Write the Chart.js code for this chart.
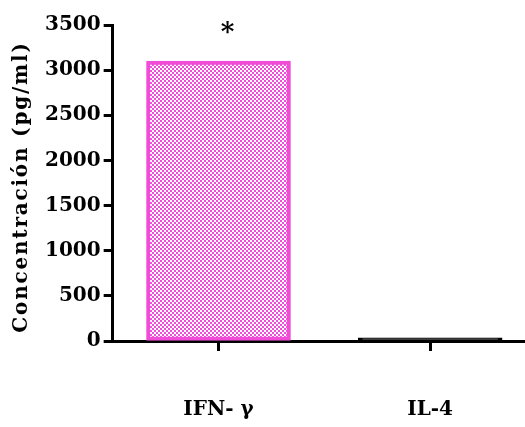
<!DOCTYPE html>
<html>
<head>
<meta charset="utf-8">
<script src="https://cdn.jsdelivr.net/npm/chart.js@4"></script>
<style>
  html, body { margin: 0; padding: 0; background: #fff; overflow: hidden; }
  /* the original plot runs past the right edge, so the canvas is a bit wider than the window */
  #wrap { width: 536px; height: 427px; }
</style>
</head>
<body>
<div id="wrap"><canvas id="chart"></canvas></div>
<script>
// Data
const categories = ["IFN- γ", "IL-4"]
const concentration = [3100, 35]
const significant = [true, false]
const yTicks = [0, 500, 1000, 1500, 2000, 2500, 3000, 3500]
const yTitle = "Concentración (pg/ml)"

const pink = "#f04cd8"

// checkered fill like the original bar
function checker() {
    const c = document.createElement("canvas")
    c.width = 4
    c.height = 4
    const g = c.getContext("2d")
    g.fillStyle = "#fff"
    g.fillRect(0, 0, 4, 4)
    g.fillStyle = pink
    g.fillRect(0, 0, 2, 2)
    g.fillRect(2, 2, 2, 2)
    return g.createPattern(c, "repeat")
}

// asterisk above significant bars + spaced-out y title
const extrasPlugin = {
    id: "extras",
    afterDraw(chart) {
        const ctx = chart.ctx
        const x = chart.scales.x, y = chart.scales.y
        ctx.save()
        ctx.fillStyle = "#000"
        ctx.font = "bold 26px 'DejaVu Serif'"
        ctx.textAlign = "center"
        ctx.textBaseline = "middle"
        concentration.forEach((v, i) => {
            if (significant[i]) ctx.fillText("*", x.getPixelForValue(i) + 9, y.getPixelForValue(v) - 28)
        })
        ctx.restore()

        ctx.save()
        ctx.translate(y.left - 20, (chart.chartArea.top + chart.chartArea.bottom) / 2 + 4)
        ctx.rotate(-Math.PI / 2)
        ctx.letterSpacing = "1.8px"
        ctx.font = "bold 20px 'DejaVu Serif'"
        ctx.fillStyle = "#000"
        ctx.textAlign = "center"
        ctx.textBaseline = "middle"
        ctx.fillText(yTitle, 0, 0)
        ctx.restore()
    }
}

const font = { family: "'DejaVu Serif'", weight: "bold", size: 20 }

new Chart(document.getElementById("chart"), {
    type: "bar",
    data: {
        labels: categories,
        datasets: [{
            data: concentration,
            backgroundColor: [checker(), "#000"],
            borderColor: [pink, "#000"],
            borderWidth: 4,
            borderSkipped: false,
            barThickness: 144
        }]
    },
    options: {
        responsive: true,
        maintainAspectRatio: false,
        animation: false,
        layout: { padding: { top: 25, left: 42, right: 0, bottom: -42 } },
        plugins: { legend: { display: false }, tooltip: { enabled: false } },
        scales: {
            x: {
                ticks: { color: "#000", font: font, padding: 47, maxRotation: 0 },
                grid: { drawOnChartArea: false, offset: false, tickLength: 10, tickWidth: 3, tickColor: "#000" },
                border: { color: "#000", width: 3 }
            },
            y: {
                min: 0,
                max: 3500,
                afterBuildTicks: (s) => { s.ticks = yTicks.map(v => ({ value: v })) },
                ticks: { color: "#000", font: font, padding: 3, callback: (v) => String(v) },
                grid: { drawOnChartArea: false, tickLength: 9, tickWidth: 3, tickColor: "#000" },
                border: { color: "#000", width: 3 }
            }
        }
    },
    plugins: [extrasPlugin]
})
</script>
</body>
</html>
